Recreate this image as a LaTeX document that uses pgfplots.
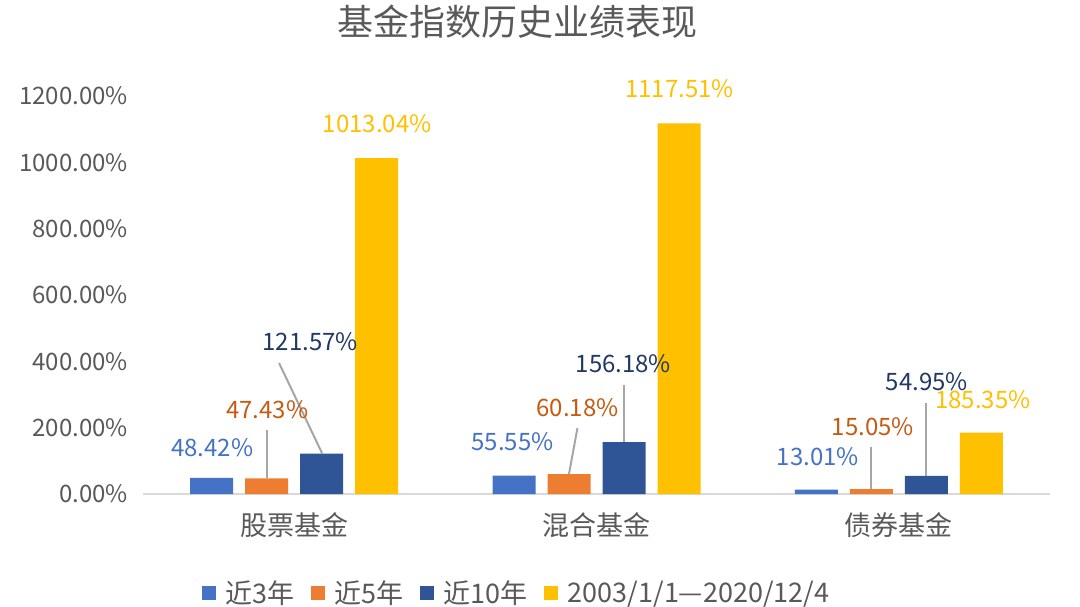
\documentclass[border=0pt]{standalone}
\usepackage{fontspec}
\setmainfont{Noto Sans CJK SC}
\usepackage{pgfplots}
\pgfplotsset{compat=1.18}
\definecolor{SerA}{HTML}{4472C4}
\definecolor{SerB}{HTML}{ED7D31}
\definecolor{SerC}{HTML}{2F5597}
\definecolor{SerD}{HTML}{FFC000}
\definecolor{LabB}{HTML}{C55A11}
\definecolor{LabC}{HTML}{203864}
\definecolor{TxtGray}{HTML}{595959}
\definecolor{AxGray}{HTML}{D9D9D9}
\definecolor{Lead}{HTML}{A6A6A6}
\pgfplotsset{sqlegend/.style={legend image code/.code={\fill[##1] (0pt,-3.5pt) rectangle (7pt,3.5pt);}}}

\begin{document}
\begin{tikzpicture}
\path[use as bounding box] (0,0) rectangle (540pt,303pt);
\node[font=\fontsize{18}{20}\selectfont, text=TxtGray] at (258.5pt,292pt) {基金指数历史业绩表现};
\begin{axis}[
  at={(71.5pt,56pt)}, anchor=south west,
  scale only axis, width=453.5pt, height=199pt,
  ybar=6pt, bar width=21.5pt,
  xmin=-0.5, xmax=2.5, ymin=0, ymax=1200,
  clip=false,
  axis x line*=bottom, axis y line*=left,
  x axis line style={-, draw=AxGray, line width=1pt},
  y axis line style={draw=none},
  major tick length=0pt,
  xtick={0,1,2},
  xticklabels={股票基金,混合基金,债券基金},
  xticklabel style={font=\fontsize{13.5}{15}\selectfont, text=TxtGray, yshift=-6pt},
  ytick={0,200,400,600,800,1000,1200},
  yticklabels={0.00\%,200.00\%,400.00\%,600.00\%,800.00\%,1000.00\%,1200.00\%},
  yticklabel style={font=\fontsize{12}{14}\selectfont, text=TxtGray, xshift=-4pt},
  legend columns=4,
  legend style={at={(axis description cs:0.413,-0.249)}, anchor=center, draw=none,
    font=\fontsize{13.5}{15}\selectfont, text=TxtGray,
    /tikz/every odd column/.append style={column sep=3pt},
    /tikz/every even column/.append style={column sep=6pt}},
]
\addplot[fill=SerA, draw=none, sqlegend] coordinates {(0,48.42) (1,55.55) (2,13.01)};
\addplot[fill=SerB, draw=none, sqlegend] coordinates {(0,47.43) (1,60.18) (2,15.05)};
\addplot[fill=SerC, draw=none, sqlegend] coordinates {(0,121.57) (1,156.18) (2,54.95)};
\addplot[fill=SerD, draw=none, sqlegend] coordinates {(0,1013.04) (1,1117.51) (2,185.35)};
\legend{近3年,近5年,近10年,2003/1/1—2020/12/4}

% leader lines
\draw[Lead, line width=1pt] (-0.089,193) -- (-0.089,47.43);
\draw[Lead, line width=1pt] (-0.050,395) -- (0.093,121.57);
\draw[Lead, line width=1pt] (0.937,199) -- (0.909,60.18);
\draw[Lead, line width=1pt] (1.091,329) -- (1.091,156.18);
\draw[Lead, line width=1pt] (1.909,142) -- (1.909,15.05);
\draw[Lead, line width=1pt] (2.091,274) -- (2.091,54.95);

% data labels
\begin{scope}[every node/.style={font=\fontsize{12}{14}\selectfont}]
\node[text=SerA] at (-0.271,139) {48.42\%};
\node[text=LabB] at (-0.089,253) {47.43\%};
\node[text=LabC] at (0.053,458) {121.57\%};
\node[text=SerD] at (0.275,1115) {1013.04\%};
\node[text=SerA] at (0.722,157) {55.55\%};
\node[text=LabB] at (0.937,259) {60.18\%};
\node[text=LabC] at (1.089,392) {156.18\%};
\node[text=SerD] at (1.275,1221) {1117.51\%};
\node[text=SerA] at (1.732,112) {13.01\%};
\node[text=LabB] at (1.914,202) {15.05\%};
\node[text=LabC] at (2.093,338) {54.95\%};
\node[text=SerD] at (2.278,283) {185.35\%};
\end{scope}
\end{axis}
\end{tikzpicture}
\end{document}
